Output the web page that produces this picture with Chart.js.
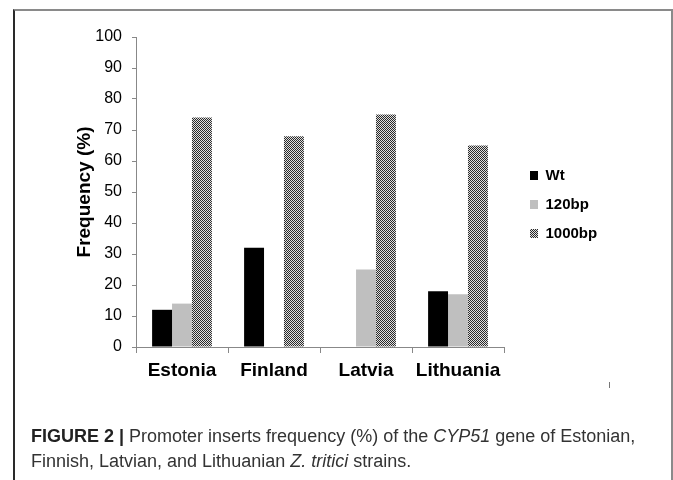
<!DOCTYPE html>
<html>
<head>
<meta charset="utf-8">
<script src="https://cdn.jsdelivr.net/npm/chart.js@4.4.1/dist/chart.umd.min.js"></script>
<style>
  html, body { margin: 0; padding: 0; background: #fff; }
  body { width: 673px; height: 480px; position: relative; overflow: hidden; }
  #frame { position: absolute; left: 13px; top: 9px; width: 656px; height: 500px;
           border: 2px solid #8a8a8a; border-left-color: #2a2a2a; }
  #c { position: absolute; left: 0; top: 0; }
  #caption { position: absolute; left: 31px; top: 424px; width: 630px;
             font-family: "Liberation Sans", Arial, sans-serif;
             font-size: 18px; line-height: 25px; color: #333; }
  #caption b { color: #222; }
  #mark { position: absolute; left: 609px; top: 382px; width: 1px; height: 6px; background: #777; }
</style>
</head>
<body>
<div id="frame"></div>
<canvas id="c" width="673" height="480"></canvas>
<div id="mark"></div>
<div id="caption"><b>FIGURE 2 |</b> Promoter inserts frequency (%) of the <i>CYP51</i> gene of Estonian, Finnish, Latvian, and Lithuanian <i>Z. tritici</i> strains.</div>
<script>
const categories = ['Estonia', 'Finland', 'Latvia', 'Lithuania'];
const wtValues = [12, 32, 0, 18];
const bp120Values = [14, 0, 25, 17];
const bp1000Values = [74, 68, 75, 65];
const yTicks = [0, 10, 20, 30, 40, 50, 60, 70, 80, 90, 100];

function makePattern() {
  const p = document.createElement('canvas');
  p.width = 2; p.height = 2;
  const g = p.getContext('2d');
  g.fillStyle = '#e0e0e0'; g.fillRect(0, 0, 2, 2);
  g.fillStyle = '#2a2a2a'; g.fillRect(0, 0, 1, 1); g.fillRect(1, 1, 1, 1);
  return document.getElementById('c').getContext('2d').createPattern(p, 'repeat');
}
const pattern = makePattern();

const legendMove = {
  id: 'legendMove',
  afterLayout(chart) {
    const L = chart.legend;
    if (!L) return;
    const w = L.right - L.left, h = L.bottom - L.top;
    L.left = 516; L.right = L.left + w;
    L.top = 154; L.bottom = L.top + h;
  }
};

new Chart(document.getElementById('c'), {
  type: 'bar',
  data: {
    labels: categories,
    datasets: [
      { label: 'Wt', data: wtValues, backgroundColor: '#000000' },
      { label: '120bp', data: bp120Values, backgroundColor: '#bfbfbf' },
      { label: '1000bp', data: bp1000Values, backgroundColor: pattern }
    ]
  },
  options: {
    responsive: false,
    animation: false,
    events: [],
    datasets: { bar: { categoryPercentage: 0.65, barPercentage: 1.0, borderWidth: 0 } },
    layout: { padding: { left: 73, top: 37, right: 169, bottom: 93 } },
    plugins: {
      tooltip: { enabled: false },
      legend: {
        position: 'chartArea',
        align: 'start',
        labels: {
          boxWidth: 8, boxHeight: 9, padding: 14, color: '#000',
          font: { family: 'Liberation Sans, Arial, sans-serif', size: 15, weight: 'bold' }
        }
      }
    },
    scales: {
      x: {
        grid: { drawOnChartArea: false, offset: true, tickLength: 6, color: '#888' },
        border: { color: '#888', width: 1 },
        ticks: { color: '#000', padding: 6, font: { family: 'Liberation Sans, Arial, sans-serif', size: 19, weight: 'bold' } },
        afterFit(s) { s.height = 40; }
      },
      y: {
        min: 0, max: 100,
        afterBuildTicks(s) { s.ticks = yTicks.map(v => ({ value: v })); },
        grid: { drawOnChartArea: false, tickLength: 4, color: '#888' },
        border: { color: '#888', width: 1 },
        ticks: { color: '#000', padding: 10, font: { family: 'Liberation Sans, Arial, sans-serif', size: 16 } },
        title: { display: true, text: 'Frequency (%)', color: '#000', padding: 0,
                 font: { family: 'Liberation Sans, Arial, sans-serif', size: 19, weight: 'bold' } },
        afterFit(s) { s.width = 63; }
      }
    }
  },
  plugins: [legendMove]
});
</script>
</body>
</html>
